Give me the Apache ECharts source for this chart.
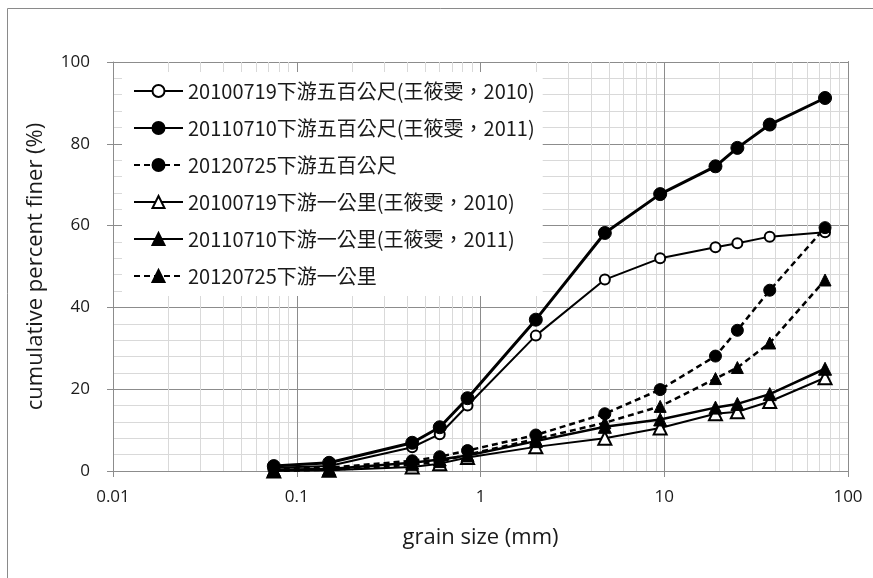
<!DOCTYPE html>
<html>
<head>
<meta charset="utf-8">
<script src="https://cdn.jsdelivr.net/npm/echarts@6/dist/echarts.min.js"></script>
<style>
html,body{margin:0;padding:0;background:#fff;}
#c{width:873px;height:578px;}
</style>
</head>
<body>
<div id="c"></div>
<script>
// ---- data ----
const grainSize = [0.075, 0.15, 0.425, 0.6, 0.85, 2, 4.75, 9.5, 19, 25, 37.5, 75];
const seriesNames = [
  '20100719下游五百公尺(王筱雯，2010)',
  '20110710下游五百公尺(王筱雯，2011)',
  '20120725下游五百公尺',
  '20100719下游一公里(王筱雯，2010)',
  '20110710下游一公里(王筱雯，2011)',
  '20120725下游一公里'
];
const s500m2010 = [0.8, 1.2, 5.8, 9.0, 16.0, 33.1, 46.8, 52.0, 54.7, 55.7, 57.3, 58.4];
const s500m2011 = [1.2, 2.0, 6.9, 10.7, 17.8, 37.0, 58.2, 67.7, 74.5, 79.0, 84.7, 91.2];
const s500m2012 = [0.5, 0.8, 2.5, 3.5, 5.0, 8.8, 14.0, 19.9, 28.1, 34.4, 44.2, 59.5];
const s1km2010 = [0.0, 0.2, 1.0, 1.8, 3.3, 5.9, 8.0, 10.5, 14.0, 14.5, 17.0, 22.8];
const s1km2011 = [0.3, 0.5, 2.0, 2.8, 3.8, 7.3, 10.8, 12.6, 15.5, 16.4, 18.8, 25.0];
const s1km2012 = [0.0, 0.3, 1.5, 2.3, 4.0, 7.8, 11.8, 15.8, 22.6, 25.3, 31.3, 46.7];
const xMinorTicks = [0.02,0.03,0.04,0.05,0.06,0.07,0.08,0.09,
  0.2,0.3,0.4,0.5,0.6,0.7,0.8,0.9,
  2,3,4,5,6,7,8,9,
  20,30,40,50,60,70,80,90];
const xTickLabels = {0.01:'0.01', 0.1:'0.1', 1:'1', 10:'10', 100:'100'};

const pair = arr => grainSize.map((x, i) => [x, arr[i]]);

const chart = echarts.init(document.getElementById('c'), null, {renderer: 'canvas'});
const txt = '#1a1a1a';
const majorGrid = '#8c8c8c';
const minorGrid = '#d9d9d9';

function mk(name, data, opts) {
  return Object.assign({
    name: name,
    type: 'line',
    data: pair(data),
    z: 5,
    animation: false,
    showAllSymbol: true
  }, opts);
}

const series = [
  // minor vertical grid lines (through the log axis)
  {
    type: 'line', data: [], silent: true, z: 1, animation: false,
    markLine: {
      silent: true, symbol: ['none','none'], animation: false,
      label: {show: false},
      lineStyle: {color: minorGrid, width: 1, type: 'solid'},
      data: xMinorTicks.map(v => ({xAxis: v}))
    }
  },
  mk(seriesNames[0], s500m2010, {
    symbol: 'circle', symbolSize: 10,
    lineStyle: {color: '#000', width: 2},
    itemStyle: {color: '#fff', borderColor: '#000', borderWidth: 2}
  }),
  mk(seriesNames[1], s500m2011, {
    symbol: 'circle', symbolSize: 13,
    lineStyle: {color: '#000', width: 3},
    itemStyle: {color: '#000', borderColor: '#000', borderWidth: 1}
  }),
  mk(seriesNames[2], s500m2012, {
    symbol: 'circle', symbolSize: 12,
    lineStyle: {color: '#000', width: 2.5, type: [6, 4]},
    itemStyle: {color: '#000', borderColor: '#000', borderWidth: 1}
  }),
  mk(seriesNames[3], s1km2010, {
    symbol: 'triangle', symbolSize: 13,
    lineStyle: {color: '#000', width: 2},
    itemStyle: {color: '#fff', borderColor: '#000', borderWidth: 2}
  }),
  mk(seriesNames[4], s1km2011, {
    symbol: 'triangle', symbolSize: 13,
    lineStyle: {color: '#000', width: 2.5},
    itemStyle: {color: '#000', borderColor: '#000', borderWidth: 1}
  }),
  mk(seriesNames[5], s1km2012, {
    symbol: 'triangle', symbolSize: 12,
    lineStyle: {color: '#000', width: 2.5, type: [6, 4]},
    itemStyle: {color: '#000', borderColor: '#000', borderWidth: 1}
  })
];

const option = {
  backgroundColor: '#fff',
  animation: false,
  textStyle: {fontFamily: '"Open Sans", sans-serif'},
  graphic: [{
    type: 'rect', silent: true, z: -10,
    shape: {x: 7.5, y: 8.5, width: 900, height: 600},
    style: {fill: 'none', stroke: '#8a8a8a', lineWidth: 1}
  }],
  grid: {left: 113, right: 25, top: 62, bottom: 107, containLabel: false},
  legend: {
    orient: 'vertical',
    left: 122, top: 72,
    padding: [7, 8, 8, 11],
    backgroundColor: '#fff',
    itemWidth: 49, itemHeight: 15, itemGap: 13,
    z: 10,
    data: seriesNames,
    textStyle: {
      fontFamily: '"Noto Sans CJK TC", "Noto Sans CJK SC", sans-serif',
      fontSize: 20, lineHeight: 24, color: txt
    }
  },
  xAxis: [{
    type: 'log', logBase: 10, min: 0.01, max: 100,
    name: 'grain size (mm)', nameLocation: 'middle', nameGap: 56,
    nameTextStyle: {fontSize: 22, color: txt, fontFamily: '"Open Sans", sans-serif'},
    axisLine: {show: true, lineStyle: {color: majorGrid, width: 1}},
    axisTick: {show: true, length: 6, lineStyle: {color: majorGrid}},
    axisLabel: {fontSize: 17, color: txt, margin: 18,
      formatter: v => xTickLabels[v] !== undefined ? xTickLabels[v] : String(v)},
    splitLine: {show: true, lineStyle: {color: majorGrid, width: 1}},
    z: 3
  }, {
    type: 'log', logBase: 10, min: 0.01, max: 100, position: 'top',
    axisLine: {show: true, lineStyle: {color: '#000', width: 1}},
    axisTick: {show: false}, axisLabel: {show: false}, splitLine: {show: false}
  }],
  yAxis: [{
    type: 'value', min: 0, max: 100, interval: 20,
    name: 'cumulative percent finer (%)', nameLocation: 'middle', nameGap: 66,
    nameTextStyle: {fontSize: 22, color: txt, fontFamily: '"Open Sans", sans-serif'},
    axisLine: {show: true, lineStyle: {color: majorGrid, width: 1}},
    axisTick: {show: true, length: 6, lineStyle: {color: majorGrid}},
    axisLabel: {fontSize: 17, color: txt, margin: 23},
    splitLine: {show: true, lineStyle: {color: majorGrid, width: 1}},
    minorTick: {show: false, splitNumber: 5},
    minorSplitLine: {show: true, lineStyle: {color: minorGrid, width: 1}},
    z: 3
  }, {
    type: 'value', min: 0, max: 100, interval: 20, position: 'right',
    axisLine: {show: true, lineStyle: {color: '#000', width: 1}},
    axisTick: {show: false}, axisLabel: {show: false}, splitLine: {show: false}
  }],
  series: series
};
chart.setOption(option);
</script>
</body>
</html>
